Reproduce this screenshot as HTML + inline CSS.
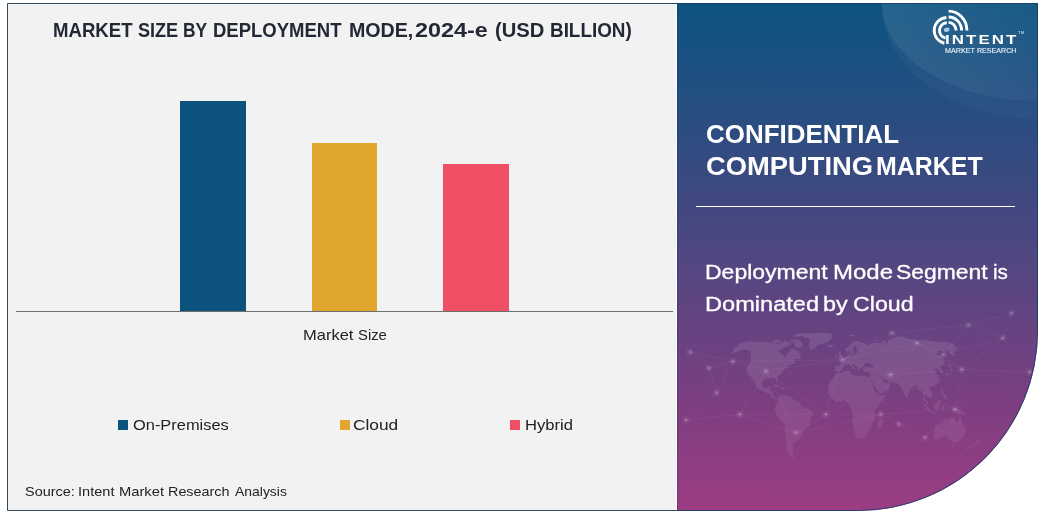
<!DOCTYPE html>
<html lang="en">
<head>
<meta charset="utf-8">
<title>Confidential Computing Market - Market Size by Deployment Mode</title>
<style>
  html, body { margin: 0; padding: 0; }
  body {
    width: 1043px; height: 513px; overflow: hidden; background: #ffffff;
    font-family: "Liberation Sans", sans-serif; position: relative;
  }
  #stage { position: absolute; left: 0; top: 0; width: 1043px; height: 513px; }
  #stage svg { position: absolute; left: 0; top: 0; display: block; }
  .ln { position: absolute; left: 0; width: 1043px; height: 0; margin: 0; white-space: nowrap; line-height: 1; }
  .w { position: absolute; top: 0; display: inline-block; transform-origin: 0 0; white-space: nowrap; line-height: 1; }
  .title { font-size: 20px; font-weight: bold; color: #222834; }
  .axis-label { font-size: 15px; color: #222222; }
  .legend { font-size: 15px; color: #222222; }
  .source { font-size: 13.5px; color: #222222; }
  .head { font-size: 25px; font-weight: bold; color: #ffffff; }
  .sub { font-size: 20px; color: #ffffff; -webkit-text-stroke: 0.3px #ffffff; }
  .logo-a { font-size: 12.5px; font-weight: bold; color: #ffffff; }
  .logo-b { font-size: 7.3px; color: #e2eef9; -webkit-text-stroke: 0.15px #e2eef9; }
  .logo-tm { font-size: 3.8px; color: #d4e6f5; }
</style>
</head>
<body>
<div id="stage">
<svg width="1043" height="513" viewBox="0 0 1043 513">
  <defs>
    <linearGradient id="pg" x1="0" y1="0" x2="0" y2="1">
      <stop offset="0" stop-color="#0c5380"/>
      <stop offset="0.2" stop-color="#254e81"/>
      <stop offset="0.41" stop-color="#434880"/>
      <stop offset="0.5" stop-color="#514781"/>
      <stop offset="0.78" stop-color="#7b3e81"/>
      <stop offset="1" stop-color="#9d3d84"/>
    </linearGradient>
    <clipPath id="frame">
      <path d="M7 3 H1038 V330.9 A180.1 180.1 0 0 1 857.9 511 H7 Z"/>
    </clipPath>
    <linearGradient id="mapg" gradientUnits="userSpaceOnUse" x1="0" y1="335" x2="0" y2="456">
      <stop offset="0" stop-color="#ffffff" stop-opacity="0.105"/>
      <stop offset="1" stop-color="#ffffff" stop-opacity="0.065"/>
    </linearGradient>
    <linearGradient id="sw1" gradientUnits="userSpaceOnUse" x1="880" y1="0" x2="1038" y2="0">
      <stop offset="0" stop-color="#ffffff" stop-opacity="0.07"/>
      <stop offset="1" stop-color="#ffffff" stop-opacity="0.03"/>
    </linearGradient>
    <linearGradient id="sw2" gradientUnits="userSpaceOnUse" x1="880" y1="0" x2="1038" y2="0">
      <stop offset="0" stop-color="#ffffff" stop-opacity="0.035"/>
      <stop offset="1" stop-color="#ffffff" stop-opacity="0.02"/>
    </linearGradient>
  </defs>
  <!-- frame background -->
  <path d="M7 3 H1038 V330.9 A180.1 180.1 0 0 1 857.9 511 H7 Z" fill="#f2f2f2"/>
  <g clip-path="url(#frame)">
    <rect x="676" y="3" width="1" height="508" fill="#ffffff"/>
    <rect x="677" y="3" width="363" height="508" fill="url(#pg)"/>
    <rect x="677" y="3" width="1" height="508" fill="#0a2850" fill-opacity="0.3"/>
    <!-- swooshes -->
    <ellipse cx="1038" cy="3" rx="157" ry="116" fill="url(#sw2)"/>
    <ellipse cx="1038" cy="3" rx="156" ry="98" fill="url(#sw1)"/>
    <!-- world map + network -->
    <path d="M736.6 345.1L740.7 343.5L749.0 341.1L757.4 341.9L765.2 341.9L770.4 342.7L775.7 343.5L780.6 343.5L786.4 340.4L787.4 342.7L791.0 341.9L791.1 344.3L786.2 346.8L780.6 349.3L778.2 351.9L780.3 352.8L782.7 354.6L783.9 356.4L784.5 358.2L786.9 354.6L789.7 351.9L791.0 348.5L794.3 348.5L795.3 350.2L798.3 351.0L799.5 352.8L799.8 355.5L802.0 357.3L798.5 359.1L794.2 359.1L794.0 361.8L796.6 362.7L792.3 364.6L789.0 365.5L787.7 367.4L785.1 368.3L782.7 371.1L782.2 373.0L779.4 374.9L777.3 376.8L777.4 380.6L777.0 382.4L775.7 380.6L775.5 377.7L773.1 377.7L769.7 378.7L766.4 378.7L763.6 380.6L762.1 384.3L763.1 388.1L764.7 389.0L767.2 388.1L768.3 386.2L770.8 386.2L769.5 390.0L772.6 391.9L773.1 395.6L774.6 397.5L777.1 397.5L777.9 398.5L775.4 399.4L772.9 398.5L770.6 395.6L769.1 393.7L765.9 392.8L763.6 390.9L759.6 390.0L755.9 387.2L755.6 384.3L753.1 380.6L751.7 376.8L749.8 377.7L751.2 381.5L752.3 384.3L751.0 382.4L749.6 378.7L749.2 374.9L747.2 374.0L746.8 371.1L746.6 368.3L749.8 362.7L751.7 360.9L750.7 359.1L750.6 355.5L751.0 351.9L748.6 350.2L745.6 349.3L739.7 351.0L733.8 352.8L727.7 354.6L733.4 351.9L733.0 349.3L735.6 346.8L739.9 345.9ZM802.9 336.0L806.7 334.6L811.9 333.5L819.8 332.9L827.2 332.9L831.8 334.0L832.2 336.7L830.5 339.6L827.6 341.9L823.6 343.5L818.2 345.1L814.5 348.5L812.0 350.2L809.3 348.5L808.7 345.1L809.6 341.9L809.4 338.1L804.4 337.4ZM795.8 339.6L798.7 339.6L801.2 341.9L803.1 345.1L799.5 348.5L796.7 347.6L794.4 345.9L794.7 342.7L791.0 341.9L791.2 339.6ZM773.6 340.4L779.7 339.6L780.8 341.9L774.9 343.1L771.8 341.9ZM793.0 336.7L798.4 336.7L808.3 334.6L810.9 333.5L804.9 332.9L796.0 334.0ZM772.5 385.3L776.8 384.3L780.5 387.2L778.0 387.2L774.9 385.7ZM781.3 387.2L785.4 387.6L785.2 389.0L781.1 389.0ZM777.9 398.5L779.7 395.6L782.3 394.7L785.5 395.6L790.5 396.6L792.1 398.5L794.5 400.3L798.6 401.3L800.3 405.1L801.9 406.9L805.3 408.8L808.6 408.8L812.8 411.7L812.9 414.5L810.5 418.3L809.9 423.0L808.5 426.7L805.4 428.6L803.1 430.5L802.6 433.3L800.8 437.1L799.5 439.0L797.3 439.9L797.0 441.8L794.1 442.7L792.3 444.6L793.6 446.5L792.2 449.3L793.5 451.1L792.4 453.8L793.8 455.6L796.0 457.4L793.2 457.4L789.2 454.7L786.9 451.1L786.8 446.5L785.3 441.8L785.5 436.2L784.6 431.4L784.6 424.8L782.7 422.0L779.1 419.2L777.2 415.4L775.3 411.7L774.4 409.8L775.2 406.9L776.1 404.1L777.8 402.2ZM828.1 386.2L829.0 383.4L831.5 379.6L834.0 377.7L834.9 374.9L837.3 373.0L840.4 373.0L844.3 371.1L849.8 371.1L850.7 374.0L853.9 375.8L857.9 375.8L861.9 375.8L866.0 376.8L868.4 376.8L870.2 379.6L872.1 383.4L873.2 387.2L875.0 390.9L877.7 394.7L879.4 395.6L884.3 394.7L883.6 398.5L881.2 402.2L877.9 406.0L876.2 408.8L874.5 411.7L875.2 416.4L875.1 420.1L871.6 423.9L870.5 428.6L868.7 430.5L866.8 434.3L864.2 437.1L861.0 438.0L857.7 439.0L856.3 437.1L854.9 433.3L853.4 427.7L851.9 423.0L852.8 418.3L852.0 411.7L849.5 406.9L849.5 403.2L847.0 402.2L844.5 400.3L840.3 401.3L836.2 402.2L833.7 400.3L831.2 397.5L828.7 394.7L827.9 391.9L828.8 389.0ZM878.3 421.1L881.8 418.3L883.3 421.1L881.1 428.6L878.6 429.6L877.2 425.8ZM835.0 371.1L835.2 365.5L840.5 365.5L841.3 362.7L839.1 360.9L841.3 360.0L843.4 358.2L844.9 357.3L847.6 355.5L847.5 352.8L848.9 352.8L849.7 355.5L851.8 355.5L854.6 354.6L856.6 354.6L856.9 351.9L858.1 351.0L860.7 350.2L857.3 350.2L855.6 347.6L857.1 345.1L855.8 345.1L853.7 347.6L853.3 350.2L853.1 353.7L851.1 354.6L849.4 351.0L846.8 351.9L845.3 350.2L845.3 348.5L848.4 346.8L850.7 344.3L852.8 341.9L856.8 341.1L860.0 341.9L862.6 342.7L866.8 344.3L868.3 346.8L864.4 346.8L865.8 345.1L869.6 345.1L869.6 343.5L875.1 343.5L878.4 342.7L882.7 342.7L881.8 340.4L884.7 340.4L887.4 343.5L887.6 340.4L890.4 338.8L894.6 337.4L898.3 336.0L904.0 337.4L906.4 338.8L914.2 339.6L919.0 341.1L922.8 339.6L930.9 341.1L938.0 341.9L944.0 341.9L950.0 342.7L954.9 345.1L954.3 345.9L959.0 348.5L955.4 350.2L952.7 351.9L955.0 354.6L954.1 357.3L948.9 352.8L947.7 349.3L946.3 351.0L941.6 351.0L937.6 351.0L936.8 354.6L941.9 356.4L944.8 360.9L944.2 365.5L941.1 365.5L940.5 368.3L943.1 372.1L941.5 374.0L940.3 371.1L937.4 368.3L935.5 369.3L933.2 369.3L935.6 371.1L937.2 371.1L935.7 373.0L938.3 375.8L940.1 378.7L939.2 381.5L936.6 384.3L932.9 386.2L930.4 386.2L929.1 388.1L932.2 392.8L932.5 395.6L930.2 397.5L927.6 396.6L924.8 393.7L924.3 396.6L926.1 399.4L927.9 402.2L928.8 405.1L926.3 403.2L923.6 398.5L923.2 393.7L921.9 390.0L919.6 390.9L917.3 386.2L915.5 385.3L913.2 386.2L909.7 390.9L908.3 393.7L906.9 398.5L905.2 396.6L902.2 390.0L900.9 386.2L897.5 384.3L895.6 382.4L891.6 382.4L888.2 381.5L887.3 380.6L883.9 379.6L882.1 377.7L880.5 377.7L883.3 381.5L886.0 383.4L887.5 382.4L890.1 384.3L889.6 388.1L886.5 390.0L882.6 392.8L878.5 393.7L877.5 390.9L874.7 386.2L872.0 381.5L870.1 378.7L869.8 374.9L870.2 372.1L867.9 372.1L864.7 372.1L863.0 370.2L862.8 368.3L865.0 367.4L869.6 367.4L873.4 367.4L873.0 365.5L869.7 363.7L868.0 362.7L865.8 362.7L864.4 363.7L863.3 366.5L861.9 367.4L860.5 368.3L859.9 370.2L858.2 369.3L856.5 366.5L853.2 363.7L851.7 363.7L852.7 366.5L855.9 368.3L854.4 370.2L853.5 368.3L851.1 366.5L849.5 364.6L847.3 364.6L844.3 365.5L844.3 366.5L842.0 368.3L842.0 370.2L840.4 371.1L838.1 372.1ZM838.4 359.1L842.7 358.2L842.7 356.4L841.3 354.6L840.6 351.9L838.6 351.9L837.9 353.7L839.9 355.5L838.4 357.3ZM834.9 357.3L837.7 357.3L837.8 354.6L835.0 355.5ZM826.8 345.9L828.3 344.7L832.6 344.7L833.8 345.9L830.4 347.2L827.9 346.8ZM945.8 376.8L945.5 374.0L948.3 373.0L951.4 373.0L951.5 370.2L949.9 367.4L948.0 365.5L948.3 363.7L951.1 364.6L950.8 366.5L952.5 372.1L950.2 374.0L947.5 374.9ZM921.2 401.3L923.8 403.2L928.8 408.8L930.3 411.7L927.1 409.8L923.8 405.1ZM933.0 405.1L936.3 403.2L939.4 399.4L941.2 401.3L939.7 406.0L938.8 409.8L934.6 408.8ZM929.5 411.7L933.6 412.6L936.9 412.6L936.8 414.0L931.9 413.5ZM941.3 408.8L942.2 405.1L945.5 405.1L943.8 406.9L944.6 409.8L942.1 410.7ZM951.4 406.9L954.6 408.8L959.6 408.8L963.7 411.7L966.7 415.4L963.4 414.5L959.3 414.5L956.9 412.6L952.9 409.8ZM940.7 389.0L942.4 389.0L943.0 392.8L945.8 395.6L946.9 399.4L944.4 398.5L942.4 394.7L941.3 392.8ZM908.5 397.5L910.3 399.4L909.5 400.3L908.6 399.4ZM935.1 426.7L934.4 430.5L933.2 437.1L934.9 439.0L939.2 438.0L944.7 436.2L947.8 436.2L949.1 439.0L950.9 439.9L951.5 441.8L954.9 442.7L959.0 440.9L964.2 435.2L966.0 430.5L964.6 426.7L961.9 423.9L961.9 420.1L959.9 416.4L958.2 422.0L955.1 421.1L954.8 417.3L950.6 417.3L948.6 420.1L945.4 419.2L942.4 423.0L938.0 424.8ZM953.0 444.6L955.3 444.6L954.0 446.5L952.2 446.9ZM978.2 439.0L978.5 440.9L980.2 441.8L976.7 444.6L974.8 445.1L973.6 444.6L976.5 442.7ZM973.6 444.6L974.4 445.5L970.0 448.3L966.1 450.2L965.4 449.3L970.7 446.5ZM848.3 335.3L852.4 334.6L855.2 335.3L851.8 336.7ZM872.8 341.1L874.3 339.6L876.3 337.4L879.0 336.7L876.2 338.8L874.6 341.1Z" fill="url(#mapg)"/>
    <path d="M716.6 392.8L733.0 361.4M716.6 392.8L709.0 368.0M733.0 361.4L709.0 368.0M733.0 361.4L766.0 371.0M716.6 392.8L739.8 414.4M766.0 371.0L739.8 414.4M766.0 371.0L826.0 414.4M739.8 414.4L826.0 414.4M739.8 414.4L796.0 432.6M826.0 414.4L796.0 432.6M826.0 414.4L842.5 359.7M766.0 371.0L842.5 359.7M842.5 359.7L890.5 374.6M826.0 414.4L880.6 414.4M890.5 374.6L880.6 414.4M842.5 359.7L917.0 343.0M890.5 374.6L917.0 343.0M917.0 343.0L943.5 354.7M943.5 354.7L961.8 369.6M890.5 374.6L961.8 369.6M961.8 369.6L955.0 409.4M880.6 414.4L955.0 409.4M917.0 343.0L892.0 333.0M842.5 359.7L892.0 333.0M892.0 333.0L968.4 325.0M943.5 354.7L968.4 325.0M968.4 325.0L1003.0 338.0M961.8 369.6L1003.0 338.0M1003.0 338.0L1011.5 313.0M968.4 325.0L1011.5 313.0M955.0 409.4L925.0 437.6M880.6 414.4L898.8 424.0M925.0 437.6L898.8 424.0M796.0 432.6L880.6 414.4M961.8 369.6L1030.0 372.0M1003.0 338.0L1030.0 372.0M955.0 409.4L1030.0 372.0M709.0 368.0L690.0 352.0M733.0 361.4L690.0 352.0M716.6 392.8L686.0 420.0M739.8 414.4L686.0 420.0M890.5 374.6L955.0 409.4M890.5 374.6L943.5 354.7M826.0 414.4L890.5 374.6M766.0 371.0L796.0 432.6M733.0 361.4L842.5 359.7M917.0 343.0L961.8 369.6M943.5 354.7L1003.0 338.0" fill="none" stroke="#ffffff" stroke-opacity="0.08" stroke-width="0.7"/>
    <circle cx="716.6" cy="392.8" r="3.6" fill="#ffffff" fill-opacity="0.07"/><circle cx="716.6" cy="392.8" r="1.3" fill="#ffffff" fill-opacity="0.22"/>
    <circle cx="733.0" cy="361.4" r="3.6" fill="#ffffff" fill-opacity="0.07"/><circle cx="733.0" cy="361.4" r="1.3" fill="#ffffff" fill-opacity="0.22"/>
    <circle cx="709.0" cy="368.0" r="3.6" fill="#ffffff" fill-opacity="0.07"/><circle cx="709.0" cy="368.0" r="1.3" fill="#ffffff" fill-opacity="0.22"/>
    <circle cx="766.0" cy="371.0" r="3.6" fill="#ffffff" fill-opacity="0.07"/><circle cx="766.0" cy="371.0" r="1.3" fill="#ffffff" fill-opacity="0.22"/>
    <circle cx="739.8" cy="414.4" r="3.6" fill="#ffffff" fill-opacity="0.07"/><circle cx="739.8" cy="414.4" r="1.3" fill="#ffffff" fill-opacity="0.22"/>
    <circle cx="826.0" cy="414.4" r="3.6" fill="#ffffff" fill-opacity="0.07"/><circle cx="826.0" cy="414.4" r="1.3" fill="#ffffff" fill-opacity="0.22"/>
    <circle cx="796.0" cy="432.6" r="3.6" fill="#ffffff" fill-opacity="0.07"/><circle cx="796.0" cy="432.6" r="1.3" fill="#ffffff" fill-opacity="0.22"/>
    <circle cx="842.5" cy="359.7" r="3.6" fill="#ffffff" fill-opacity="0.07"/><circle cx="842.5" cy="359.7" r="1.3" fill="#ffffff" fill-opacity="0.22"/>
    <circle cx="890.5" cy="374.6" r="3.6" fill="#ffffff" fill-opacity="0.07"/><circle cx="890.5" cy="374.6" r="1.3" fill="#ffffff" fill-opacity="0.22"/>
    <circle cx="880.6" cy="414.4" r="3.6" fill="#ffffff" fill-opacity="0.07"/><circle cx="880.6" cy="414.4" r="1.3" fill="#ffffff" fill-opacity="0.22"/>
    <circle cx="917.0" cy="343.0" r="3.6" fill="#ffffff" fill-opacity="0.07"/><circle cx="917.0" cy="343.0" r="1.3" fill="#ffffff" fill-opacity="0.22"/>
    <circle cx="943.5" cy="354.7" r="3.6" fill="#ffffff" fill-opacity="0.07"/><circle cx="943.5" cy="354.7" r="1.3" fill="#ffffff" fill-opacity="0.22"/>
    <circle cx="961.8" cy="369.6" r="3.6" fill="#ffffff" fill-opacity="0.07"/><circle cx="961.8" cy="369.6" r="1.3" fill="#ffffff" fill-opacity="0.22"/>
    <circle cx="955.0" cy="409.4" r="3.6" fill="#ffffff" fill-opacity="0.07"/><circle cx="955.0" cy="409.4" r="1.3" fill="#ffffff" fill-opacity="0.22"/>
    <circle cx="892.0" cy="333.0" r="3.6" fill="#ffffff" fill-opacity="0.07"/><circle cx="892.0" cy="333.0" r="1.3" fill="#ffffff" fill-opacity="0.22"/>
    <circle cx="968.4" cy="325.0" r="3.6" fill="#ffffff" fill-opacity="0.07"/><circle cx="968.4" cy="325.0" r="1.3" fill="#ffffff" fill-opacity="0.22"/>
    <circle cx="1003.0" cy="338.0" r="3.6" fill="#ffffff" fill-opacity="0.07"/><circle cx="1003.0" cy="338.0" r="1.3" fill="#ffffff" fill-opacity="0.22"/>
    <circle cx="1011.5" cy="313.0" r="3.6" fill="#ffffff" fill-opacity="0.07"/><circle cx="1011.5" cy="313.0" r="1.3" fill="#ffffff" fill-opacity="0.22"/>
    <circle cx="925.0" cy="437.6" r="3.6" fill="#ffffff" fill-opacity="0.07"/><circle cx="925.0" cy="437.6" r="1.3" fill="#ffffff" fill-opacity="0.22"/>
    <circle cx="898.8" cy="424.0" r="3.6" fill="#ffffff" fill-opacity="0.07"/><circle cx="898.8" cy="424.0" r="1.3" fill="#ffffff" fill-opacity="0.22"/>
    <circle cx="1030.0" cy="372.0" r="3.6" fill="#ffffff" fill-opacity="0.07"/><circle cx="1030.0" cy="372.0" r="1.3" fill="#ffffff" fill-opacity="0.22"/>
    <circle cx="690.0" cy="352.0" r="3.6" fill="#ffffff" fill-opacity="0.07"/><circle cx="690.0" cy="352.0" r="1.3" fill="#ffffff" fill-opacity="0.22"/>
    <circle cx="686.0" cy="420.0" r="3.6" fill="#ffffff" fill-opacity="0.07"/><circle cx="686.0" cy="420.0" r="1.3" fill="#ffffff" fill-opacity="0.22"/>
  </g>
  <!-- frame border: slate on the light chart side, navy on the gradient panel side -->
  <path d="M677 3.5 H7.5 V510.5 H677" fill="none" stroke="#2e4c5d" stroke-width="1"/>
  <path d="M677 3.5 H1037.5 V330.9 A179.6 179.6 0 0 1 857.9 510.5 H677" fill="none" stroke="#173f68" stroke-opacity="0.85" stroke-width="1"/>

  <!-- chart -->
  <rect x="180" y="101" width="66" height="210" fill="#0b527d"/>
  <rect x="312" y="143" width="65" height="168" fill="#e1a62e"/>
  <rect x="443" y="164" width="66" height="147" fill="#ef4f65"/>
  <rect x="16" y="311" width="657" height="1" fill="#6e6e6e"/>

  <!-- legend markers -->
  <rect x="118" y="420" width="10" height="10" fill="#0b527d"/>
  <rect x="340" y="420" width="10" height="10" fill="#e1a62e"/>
  <rect x="510" y="420" width="10" height="10" fill="#ef4f65"/>

  <!-- logo icon -->
  <g fill="none" stroke="#ffffff" stroke-width="2.9">
    <path d="M948.6 11.1 A18.3 19.5 0 0 1 966.9 30.6"/>
    <path d="M948.6 17 A13 13.6 0 0 1 961.6 30.6"/>
    <path d="M948.6 22.4 A7.4 8.2 0 0 1 956 30.6"/>
    <path d="M946.39 17.43 A13.1 13.1 0 0 0 944.35 43.26"/>
    <path d="M946.76 22.72 A7.8 7.8 0 0 0 945.55 38.1"/>
  </g>
  <ellipse cx="946.7" cy="29.8" rx="2.9" ry="2.1" transform="rotate(-20 946.7 29.8)" fill="#a9cbe6"/>

  <!-- divider -->
  <rect x="696" y="206" width="319" height="1" fill="#ffffff"/>
</svg>

<div class="ln title" style="top:20px"><span class="w" style="left:52.97px;transform:scaleX(0.9298)">MARKET</span> <span class="w" style="left:138.30px;transform:scaleX(0.9023)">SIZE</span> <span class="w" style="left:183.13px;transform:scaleX(0.8692)">BY</span> <span class="w" style="left:213.27px;transform:scaleX(0.9254)">DEPLOYMENT</span> <span class="w" style="left:348.52px;transform:scaleX(0.9810)">MODE,</span> <span class="w" style="left:415.43px;transform:scaleX(1.1672)">2024-e</span> <span class="w" style="left:494.99px;transform:scaleX(1.0085)">(USD</span> <span class="w" style="left:549.66px;transform:scaleX(0.9435)">BILLION)</span></div>
<div class="ln axis-label" style="top:327px"><span class="w" style="left:303.30px;transform:scaleX(1.1000)">Market</span> <span class="w" style="left:358.01px;transform:scaleX(0.9889)">Size</span></div>
<div class="ln legend" style="top:417px"><span class="w" style="left:132.61px;transform:scaleX(1.0942)">On-Premises</span></div>
<div class="ln legend" style="top:417px"><span class="w" style="left:353.45px;transform:scaleX(1.1541)">Cloud</span></div>
<div class="ln legend" style="top:417px"><span class="w" style="left:524.79px;transform:scaleX(1.1073)">Hybrid</span></div>
<div class="ln source" style="top:484.6px"><span class="w" style="left:24.53px;transform:scaleX(1.0705)">Source:</span> <span class="w" style="left:77.62px;transform:scaleX(1.0788)">Intent</span> <span class="w" style="left:118.51px;transform:scaleX(1.0900)">Market</span> <span class="w" style="left:167.94px;transform:scaleX(1.0643)">Research</span> <span class="w" style="left:234.70px;transform:scaleX(1.0320)">Analysis</span></div>
<div class="ln head" style="top:122.4px"><span class="w" style="left:705.86px;transform:scaleX(1.0375)">CONFIDENTIAL</span></div>
<div class="ln head" style="top:154px"><span class="w" style="left:705.81px;transform:scaleX(1.0933)">COMPUTING</span> <span class="w" style="left:875.71px;transform:scaleX(0.9971)">MARKET</span></div>
<div class="ln sub" style="top:262.1px"><span class="w" style="left:704.60px;transform:scaleX(1.1495)">Deployment</span> <span class="w" style="left:832.60px;transform:scaleX(1.2000)">Mode</span> <span class="w" style="left:895.65px;transform:scaleX(1.1456)">Segment</span> <span class="w" style="left:993.17px;transform:scaleX(1.0308)">is</span></div>
<div class="ln sub" style="top:293.6px"><span class="w" style="left:704.54px;transform:scaleX(1.1796)">Dominated</span> <span class="w" style="left:823.43px;transform:scaleX(1.1700)">by</span> <span class="w" style="left:853.04px;transform:scaleX(1.1600)">Cloud</span></div>
<div class="ln logo-b" style="top:46.5px"><span class="w" style="left:944.91px;transform:scaleX(0.9862)">MARKET</span> <span class="w" style="left:977.03px;transform:scaleX(0.9718)">RESEARCH</span></div>
<div class="ln logo-a" style="top:34.4px"><span class="w" style="left:944.9px;letter-spacing:1.55px;transform:scaleX(1.35)">INTENT</span></div>
<div class="ln logo-tm" style="top:32.3px"><span class="w" style="left:1018px;transform:scaleX(1.15)">TM</span></div>
</div>
</body>
</html>
